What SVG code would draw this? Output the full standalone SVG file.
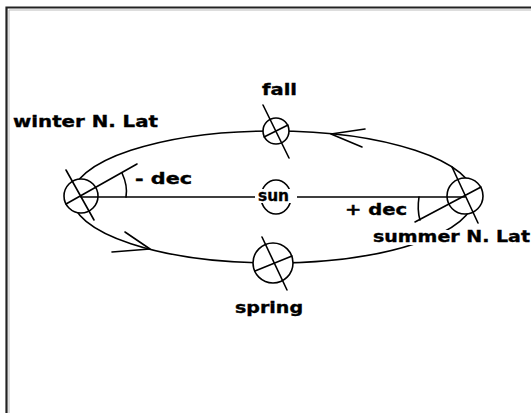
<svg xmlns="http://www.w3.org/2000/svg" width="531" height="413" viewBox="0 0 531 413">
<style>
.ln{fill:none;stroke:#000;stroke-width:1.6;stroke-linecap:round}
.pl{fill:#fff;stroke:#000;stroke-width:1.6}
.lbl{font-family:"DejaVu Sans","Liberation Sans",sans-serif;font-weight:bold;font-size:15px;fill:#000;stroke:#000;stroke-width:0.35}
</style>
<rect x="0" y="0" width="531" height="413" fill="#fff"/>
<g id="frame">
<path d="M6.5 413 V7.5 H531" fill="none" stroke="#222" stroke-width="2.2"/>
<path d="M9 413 V10 H531" fill="none" stroke="#bbb" stroke-width="1"/>
</g>
<g id="connectors">
<ellipse id="orbit" cx="273" cy="197" rx="201" ry="66" class="ln"/>
<path class="ln" d="M331 134 L365 129 M331 134 L362 147"/>
<path class="ln" d="M150 249 L112 252 M150 249 L125 232"/>
</g>
<g id="sun">
<ellipse cx="276" cy="197" rx="15" ry="17" class="ln"/>
</g>
<g id="winter">
<circle cx="81" cy="196" r="17" class="pl"/>
<path class="ln" d="M66 170 L94 220 M66 204 L137 164"/>
<path class="ln" d="M126 197 Q128 186 122 173"/>
</g>
<g id="summer">
<circle cx="465" cy="196" r="18" class="pl"/>
<path class="ln" d="M452 167 L478 223 M481 187 L415 222"/>
<path class="ln" d="M419 197 Q417 210 420 220"/>
</g>
<g id="fall">
<circle cx="276" cy="131" r="13" class="pl"/>
<path class="ln" d="M263 105 L289 158 M264 137 L288 125"/>
</g>
<g id="spring">
<circle cx="273" cy="263" r="20" class="pl"/>
<path class="ln" d="M262 237 L287 290 M255 271 L292 256"/>
</g>
<g id="sunline">
<path class="ln" d="M81 197 H465"/>
<rect x="255" y="189" width="42" height="14" fill="#fff"/>
<text class="lbl" x="258" y="201" textLength="31" lengthAdjust="spacingAndGlyphs">sun</text>
</g>
<g id="labels">
<text class="lbl" x="13" y="127" textLength="145" lengthAdjust="spacingAndGlyphs">winter N. Lat</text>
<text class="lbl" x="262" y="95" textLength="35" lengthAdjust="spacingAndGlyphs">fall</text>
<text class="lbl" x="135" y="184" textLength="57" lengthAdjust="spacingAndGlyphs">- dec</text>
<text class="lbl" x="345" y="215" textLength="62" lengthAdjust="spacingAndGlyphs">+ dec</text>
<rect x="372" y="230" width="159" height="15" fill="#fff"/>
<text class="lbl" x="373" y="242" textLength="157" lengthAdjust="spacingAndGlyphs">summer N. Lat</text>
<text class="lbl" x="235" y="313" textLength="68" lengthAdjust="spacingAndGlyphs">spring</text>
</g>
</svg>
